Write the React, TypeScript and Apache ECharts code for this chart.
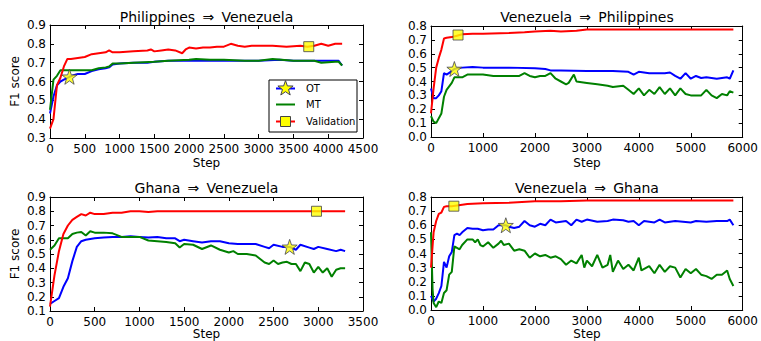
import React, { useEffect, useRef } from "react";
import * as echarts from "echarts";

// ---------- DATA ----------
const titles = [
  "Philippines \u2009\u21D2\u2009 Venezuela",
  "Venezuela \u2009\u21D2\u2009 Philippines",
  "Ghana \u2009\u21D2\u2009 Venezuela",
  "Venezuela \u2009\u21D2\u2009 Ghana",
];
const seriesNames = ["OT", "MT", "Validation"];

// Plot 1: Philippines => Venezuela
const p1OT = [[0,0.43],[50,0.52],[100,0.58],[150,0.6],[200,0.61],[280,0.625],[350,0.635],[400,0.64],[500,0.64],[600,0.655],[700,0.665],[800,0.67],[850,0.675],[900,0.69],[1000,0.695],[1200,0.7],[1400,0.7],[1500,0.705],[1700,0.71],[2000,0.71],[2200,0.71],[2500,0.71],[2800,0.71],[3000,0.71],[3300,0.715],[3500,0.71],[3800,0.71],[4000,0.71],[4150,0.71],[4200,0.685]];
const p1MT = [[0,0.45],[50,0.61],[100,0.63],[150,0.66],[250,0.66],[400,0.66],[600,0.66],[700,0.67],[800,0.675],[850,0.68],[900,0.695],[1000,0.695],[1200,0.7],[1500,0.705],[1700,0.71],[2000,0.715],[2100,0.72],[2300,0.715],[2500,0.715],[2800,0.71],[3000,0.71],[3200,0.72],[3500,0.71],[3800,0.71],[3900,0.7],[4100,0.705],[4150,0.705],[4200,0.685]];
const p1Val = [[0,0.35],[50,0.4],[100,0.58],[150,0.62],[200,0.68],[250,0.72],[300,0.72],[400,0.725],[500,0.73],[600,0.745],[700,0.75],[800,0.755],[850,0.765],[900,0.755],[1000,0.755],[1200,0.76],[1400,0.765],[1450,0.77],[1500,0.76],[1600,0.765],[1700,0.77],[1800,0.765],[1900,0.75],[1950,0.77],[2000,0.78],[2100,0.775],[2200,0.78],[2300,0.78],[2400,0.785],[2500,0.785],[2600,0.8],[2700,0.79],[2800,0.785],[2900,0.79],[3000,0.79],[3200,0.79],[3400,0.785],[3600,0.79],[3700,0.785],[3800,0.79],[3900,0.8],[4000,0.79],[4100,0.8],[4200,0.8]];
const p1Star = [280, 0.625];
const p1Square = [3720, 0.785];

// Plot 2: Venezuela => Philippines
const p2OT = [[0,0.35],[50,0.28],[100,0.28],[150,0.3],[200,0.33],[250,0.46],[300,0.45],[400,0.475],[450,0.49],[500,0.495],[600,0.5],[800,0.505],[1000,0.5],[1500,0.5],[2000,0.495],[2200,0.49],[2300,0.48],[2500,0.48],[3000,0.475],[3500,0.475],[3800,0.47],[3900,0.45],[4000,0.47],[4200,0.46],[4500,0.46],[4600,0.465],[4700,0.44],[4800,0.42],[4900,0.46],[5000,0.42],[5100,0.44],[5200,0.425],[5300,0.43],[5500,0.42],[5700,0.43],[5750,0.42],[5820,0.48]];
const p2MT = [[0,0.15],[50,0.11],[100,0.1],[200,0.17],[250,0.29],[300,0.34],[400,0.39],[450,0.43],[600,0.43],[700,0.45],[900,0.45],[1000,0.45],[1200,0.44],[1500,0.44],[1700,0.44],[1800,0.46],[1900,0.44],[2000,0.43],[2100,0.44],[2200,0.44],[2300,0.46],[2400,0.42],[2500,0.4],[2600,0.38],[2650,0.39],[2750,0.45],[2800,0.4],[3000,0.39],[3200,0.38],[3400,0.37],[3500,0.36],[3700,0.37],[3800,0.34],[3900,0.31],[4000,0.35],[4100,0.3],[4200,0.34],[4300,0.31],[4400,0.36],[4500,0.31],[4600,0.35],[4700,0.3],[4800,0.35],[4900,0.31],[5000,0.3],[5200,0.3],[5300,0.34],[5400,0.3],[5500,0.28],[5600,0.31],[5700,0.3],[5750,0.33],[5820,0.32]];
const p2Val = [[0,0.17],[50,0.35],[100,0.5],[150,0.57],[200,0.63],[250,0.71],[300,0.715],[400,0.72],[500,0.73],[600,0.74],[800,0.745],[1000,0.745],[1500,0.75],[1800,0.755],[2000,0.76],[2300,0.765],[2500,0.76],[2800,0.765],[3000,0.775],[3500,0.775],[4000,0.775],[5000,0.775],[5500,0.775],[5820,0.775]];
const p2Star = [450, 0.49];
const p2Square = [520, 0.735];

// Plot 3: Ghana => Venezuela
const p3OT = [[0,0.15],[50,0.17],[100,0.19],[150,0.27],[200,0.33],[250,0.45],[300,0.55],[350,0.59],[400,0.6],[500,0.61],[600,0.615],[700,0.62],[800,0.62],[900,0.625],[1000,0.62],[1100,0.615],[1200,0.62],[1300,0.61],[1400,0.61],[1450,0.59],[1500,0.6],[1600,0.59],[1700,0.58],[1800,0.59],[1900,0.59],[2000,0.575],[2100,0.57],[2200,0.57],[2300,0.57],[2400,0.55],[2450,0.54],[2500,0.565],[2600,0.55],[2680,0.55],[2750,0.53],[2800,0.565],[2900,0.545],[2950,0.535],[3000,0.55],[3100,0.535],[3200,0.52],[3250,0.53],[3300,0.52]];
const p3MT = [[0,0.53],[50,0.56],[100,0.61],[200,0.61],[250,0.64],[300,0.65],[350,0.655],[400,0.63],[450,0.66],[500,0.65],[600,0.65],[700,0.645],[800,0.62],[900,0.62],[1000,0.62],[1100,0.595],[1200,0.59],[1300,0.585],[1400,0.575],[1450,0.545],[1500,0.57],[1600,0.565],[1700,0.535],[1800,0.56],[1900,0.53],[2000,0.51],[2050,0.52],[2100,0.5],[2200,0.5],[2300,0.49],[2400,0.44],[2450,0.43],[2500,0.455],[2550,0.43],[2600,0.44],[2650,0.445],[2700,0.43],[2750,0.43],[2800,0.38],[2850,0.44],[2900,0.43],[2950,0.37],[3000,0.41],[3050,0.37],[3100,0.4],[3150,0.34],[3200,0.39],[3250,0.4],[3300,0.4]];
const p3Val = [[0,0.13],[50,0.35],[100,0.52],[150,0.64],[200,0.7],[250,0.74],[300,0.76],[350,0.78],[400,0.77],[450,0.79],[500,0.78],[600,0.78],[700,0.79],[800,0.79],[900,0.8],[1000,0.8],[1100,0.795],[1200,0.8],[1500,0.8],[2000,0.8],[2500,0.8],[2980,0.8],[3300,0.8]];
const p3Star = [2680, 0.55];
const p3Square = [2980, 0.8];

// Plot 4: Venezuela => Ghana
const p4OT = [[0,0.1],[50,0.06],[100,0.08],[150,0.12],[200,0.17],[250,0.34],[300,0.3],[350,0.38],[400,0.41],[450,0.53],[500,0.54],[550,0.53],[600,0.55],[700,0.58],[800,0.575],[900,0.575],[1000,0.565],[1100,0.57],[1200,0.57],[1300,0.6],[1440,0.6],[1500,0.59],[1600,0.58],[1700,0.59],[1800,0.63],[1900,0.6],[2000,0.59],[2100,0.61],[2200,0.6],[2300,0.64],[2400,0.62],[2600,0.63],[2700,0.6],[2800,0.64],[2900,0.625],[3000,0.64],[3200,0.625],[3400,0.63],[3500,0.64],[3700,0.635],[3800,0.625],[3900,0.63],[4000,0.6],[4100,0.63],[4300,0.62],[4400,0.64],[4500,0.62],[4700,0.63],[5000,0.62],[5100,0.63],[5300,0.625],[5500,0.63],[5700,0.63],[5750,0.64],[5820,0.6]];
const p4MT = [[0,0.55],[30,0.15],[50,0.05],[100,0.02],[150,0.06],[200,0.05],[250,0.12],[300,0.14],[350,0.25],[400,0.27],[450,0.45],[500,0.44],[550,0.43],[600,0.46],[700,0.5],[800,0.5],[850,0.48],[900,0.5],[950,0.46],[1000,0.45],[1100,0.48],[1200,0.44],[1300,0.47],[1350,0.49],[1400,0.46],[1500,0.47],[1600,0.42],[1700,0.43],[1800,0.42],[1900,0.37],[2000,0.4],[2100,0.38],[2200,0.39],[2300,0.37],[2400,0.38],[2500,0.36],[2600,0.32],[2700,0.35],[2800,0.33],[2900,0.39],[2950,0.3],[3000,0.35],[3100,0.31],[3200,0.39],[3300,0.3],[3400,0.32],[3450,0.39],[3500,0.27],[3600,0.35],[3700,0.29],[3800,0.32],[3900,0.28],[4000,0.37],[4050,0.28],[4200,0.31],[4300,0.26],[4400,0.32],[4500,0.27],[4600,0.31],[4700,0.3],[4800,0.23],[4900,0.29],[5000,0.26],[5100,0.29],[5200,0.25],[5300,0.24],[5400,0.22],[5500,0.25],[5600,0.25],[5700,0.28],[5750,0.22],[5820,0.17]];
const p4Val = [[0,0.3],[30,0.45],[50,0.55],[100,0.63],[150,0.68],[200,0.69],[250,0.73],[300,0.735],[400,0.735],[500,0.74],[700,0.75],[1000,0.755],[1500,0.76],[2000,0.77],[2500,0.77],[3000,0.775],[4000,0.775],[5000,0.775],[5820,0.775]];
const p4Star = [1440, 0.6];
const p4Square = [440, 0.735];

const xRanges = [[0, 4500, 500], [0, 6000, 1000], [0, 3500, 500], [0, 6000, 1000]];
const yRanges = [[0.3, 0.9, 0.1], [0.0, 0.8, 0.1], [0.1, 0.9, 0.1], [0.0, 0.8, 0.1]];

const otData = [p1OT, p2OT, p3OT, p4OT];
const mtData = [p1MT, p2MT, p3MT, p4MT];
const valData = [p1Val, p2Val, p3Val, p4Val];
const starPts = [p1Star, p2Star, p3Star, p4Star];
const squarePts = [p1Square, p2Square, p3Square, p4Square];

// ---------- STYLE / LAYOUT ----------
const FONT = "DejaVu Sans";
const COLORS = ["#0000ff", "#008000", "#ff0000"];
const grids = [
  { left: 50, top: 25, width: 313, height: 113 },
  { left: 431, top: 26, width: 312, height: 111 },
  { left: 50, top: 197, width: 313, height: 114 },
  { left: 431, top: 197, width: 312, height: 113 },
];

function starPoints(cx: number, cy: number, ro: number, ri: number) {
  const pts: number[][] = [];
  for (let i = 0; i < 10; i++) {
    const r = i % 2 === 0 ? ro : ri;
    const a = -Math.PI / 2 + (i * Math.PI) / 5;
    pts.push([cx + r * Math.cos(a), cy + r * Math.sin(a)]);
  }
  return pts;
}
const starPath =
  "path://" +
  starPoints(50, 50, 50, 20)
    .map((p, i) => (i === 0 ? "M" : "L") + p[0].toFixed(2) + " " + p[1].toFixed(2))
    .join(" ") +
  " Z";

export default function App() {
  const ref = useRef<HTMLDivElement>(null);
  useEffect(() => {
    if (!ref.current) return;
    const chart = echarts.init(ref.current, null, { renderer: "svg" });

    const xAxes: any[] = [];
    const yAxes: any[] = [];
    const baseAxis = {
      axisLine: { show: true, onZero: false, lineStyle: { color: "#000", width: 1 } },
      axisTick: { show: true, inside: true, length: 4, lineStyle: { color: "#000" } },
      splitLine: { show: false },
    };
    for (let pass = 0; pass < 2; pass++) {
      for (let i = 0; i < 4; i++) {
        const [xmin, xmax, xint] = xRanges[i];
        const [ymin, ymax, yint] = yRanges[i];
        xAxes.push({
          ...baseAxis,
          type: "value",
          gridIndex: i,
          position: pass === 0 ? "bottom" : "top",
          min: xmin,
          max: xmax,
          interval: xint,
          axisLabel: {
            show: pass === 0,
            color: "#000",
            fontFamily: FONT,
            fontSize: 12,
            margin: 5,
            formatter: (v: number) => String(Math.round(v)),
          },
        });
        yAxes.push({
          ...baseAxis,
          type: "value",
          gridIndex: i,
          position: pass === 0 ? "left" : "right",
          min: ymin,
          max: ymax,
          interval: yint,
          axisLabel: {
            show: pass === 0,
            color: "#000",
            fontFamily: FONT,
            fontSize: 12,
            margin: 4,
            formatter: (v: number) => v.toFixed(1),
          },
        });
      }
    }

    const series: any[] = [];
    const dataSets = [otData, mtData, valData];
    for (let i = 0; i < 4; i++) {
      dataSets.forEach((ds, k) => {
        series.push({
          type: "line",
          name: seriesNames[k],
          xAxisIndex: i,
          yAxisIndex: i,
          data: ds[i],
          showSymbol: false,
          symbol: "none",
          lineStyle: { color: COLORS[k], width: 2 },
          z: 2 + k,
          clip: true,
        });
      });
      series.push({
        type: "scatter",
        xAxisIndex: i,
        yAxisIndex: i,
        data: [starPts[i]],
        symbol: starPath,
        symbolSize: 15,
        itemStyle: { color: "#ffff00", borderColor: "#444455", borderWidth: 1 },
        z: 10,
      });
      series.push({
        type: "scatter",
        xAxisIndex: i,
        yAxisIndex: i,
        data: [squarePts[i]],
        symbol: "rect",
        symbolSize: 10,
        itemStyle: { color: "#ffff00", borderColor: "#444444", borderWidth: 1 },
        z: 10,
      });
    }

    const graphic: any[] = [];
    grids.forEach((g, i) => {
      graphic.push({
        type: "text",
        x: g.left + g.width / 2,
        y: i < 2 ? 17 : 188,
        style: {
          text: titles[i],
          fontFamily: FONT,
          fontSize: 14,
          fill: "#000",
          textAlign: "center",
          textVerticalAlign: "middle",
        },
      });
      graphic.push({
        type: "text",
        x: g.left + g.width / 2,
        y: i < 2 ? 163 : 333.5,
        style: {
          text: "Step",
          fontFamily: FONT,
          fontSize: 12,
          fill: "#000",
          textAlign: "center",
          textVerticalAlign: "middle",
        },
      });
      if (i % 2 === 0) {
        graphic.push({
          type: "text",
          x: 15,
          y: g.top + g.height / 2,
          rotation: Math.PI / 2,
          style: {
            text: "F1 score",
            fontFamily: FONT,
            fontSize: 12,
            fill: "#000",
            textAlign: "center",
            textVerticalAlign: "middle",
          },
        });
      }
    });

    // legend (top-left plot)
    const lgX = 269, lgY = 80, lgW = 88, lgH = 52;
    graphic.push({
      type: "rect",
      shape: { x: lgX, y: lgY, width: lgW, height: lgH },
      style: { fill: "#fff", stroke: "#000", lineWidth: 1 },
      z: 20,
    });
    const rowsY = [88.5, 104.5, 121.5];
    rowsY.forEach((ry, k) => {
      graphic.push({
        type: "line",
        shape: { x1: 276, y1: ry, x2: 295, y2: ry },
        style: { stroke: COLORS[k], lineWidth: 2 },
        z: 21,
      });
      graphic.push({
        type: "text",
        x: 306,
        y: ry,
        style: {
          text: seriesNames[k],
          fontFamily: FONT,
          fontSize: 10,
          fill: "#000",
          textAlign: "left",
          textVerticalAlign: "middle",
        },
        z: 21,
      });
    });
    graphic.push({
      type: "polygon",
      shape: { points: starPoints(285.5, rowsY[0], 8, 3.2) },
      style: { fill: "#ffff00", stroke: "#444455", lineWidth: 1 },
      z: 22,
    });
    graphic.push({
      type: "rect",
      shape: { x: 280.5, y: rowsY[2] - 5, width: 10, height: 10 },
      style: { fill: "#ffff00", stroke: "#444", lineWidth: 1 },
      z: 22,
    });

    chart.setOption({
      animation: false,
      backgroundColor: "#fff",
      grid: grids.map((g) => ({ ...g, containLabel: false })),
      xAxis: xAxes,
      yAxis: yAxes,
      series,
      graphic,
    });
    return () => chart.dispose();
  }, []);
  return <div ref={ref} style={{ width: 761, height: 341, position: "absolute", left: 0, top: 0 }} />;
}
